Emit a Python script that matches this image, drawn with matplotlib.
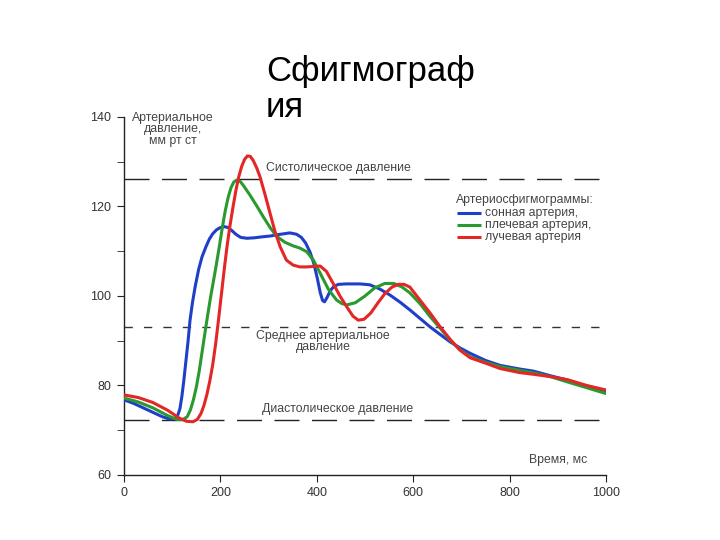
import matplotlib
matplotlib.use("Agg")
import matplotlib.pyplot as plt

plt.rcParams['font.family'] = ['Liberation Sans', 'DejaVu Sans']

# сонная артерия
t_blue = [0, 20, 50, 80, 95, 105, 111, 116, 120, 124, 128, 133, 137, 142, 148, 155, 162, 170,
          177, 184, 192, 200, 208, 216, 224, 232, 242, 255, 270, 285, 303, 325, 344, 358, 368,
          377, 386, 394, 401, 407, 412, 416, 421, 428, 436, 445, 460, 490, 510, 530, 552, 573,
          593, 614, 635, 656, 676, 697, 718, 750, 780, 820, 850, 884, 920, 960, 1000]
p_blue = [76.8, 76, 74.5, 73, 72.5, 72.6, 73.2, 74.8, 77.5, 81, 85, 90, 94.6, 98.5, 102.3, 106,
          108.8, 111, 112.7, 113.9, 114.8, 115.3, 115.5, 115.3, 114.6, 113.8, 113.1, 112.9, 113,
          113.2, 113.4, 113.8, 114.1, 113.8, 113.1, 111.8, 109.8, 107.2, 104, 100.8, 99, 98.7,
          99.6, 101.2, 102.2, 102.6, 102.7, 102.7, 102.5, 101.6, 100.2, 98.6, 96.9, 95, 93.1,
          91.4, 89.8, 88.4, 87.2, 85.6, 84.5, 83.7, 83.2, 82.2, 81.2, 79.9, 78.8]

# плечевая артерия
t_green = [0, 30, 60, 90, 110, 122, 131, 138, 144, 150, 156, 162, 168, 174, 180, 186, 192, 198,
           204, 210, 216, 222, 228, 234, 241, 247, 254, 261, 275, 289, 303, 317, 334, 351, 365,
           379, 393, 407, 424, 441, 452, 462, 480, 500, 520, 541, 560, 577, 593, 614, 635, 656,
           676, 697, 718, 750, 780, 820, 850, 884, 920, 960, 1000]
p_green = [77.2, 76.3, 75, 73.3, 72.4, 72.4, 73, 74.6, 76.8, 79.6, 83.2, 87.5, 91.8, 96, 100,
           103.6, 107.3, 111.2, 115.3, 119, 122, 124.2, 125.5, 125.9, 125.6, 124.8, 123.7, 122.6,
           120.2, 117.7, 115.3, 113.3, 112, 111.2, 110.7, 109.9, 108, 105.1, 101.5, 99.1, 98.3,
           98, 98.5, 100, 101.8, 102.8, 102.8, 102, 100.7, 98.3, 95.4, 92.8, 90.2, 88, 86.4,
           85.2, 84.2, 83.4, 82.8, 82, 80.8, 79.5, 78.2]

# лучевая архерия
t_red = [0, 30, 60, 90, 115, 130, 143, 152, 160, 166, 172, 178, 184, 190, 196, 202, 208, 214,
         220, 226, 232, 238, 244, 250, 256, 262, 268, 275, 282, 293, 303, 313, 324, 337, 351,
         365, 379, 393, 407, 420, 434, 448, 462, 475, 486, 498, 512, 527, 541, 556, 569, 581,
         593, 614, 635, 656, 676, 697, 718, 750, 780, 820, 850, 884, 920, 960, 1000]
p_red = [77.9, 77.3, 76.2, 74.5, 72.7, 72, 71.9, 72.4, 73.8, 75.6, 78, 81, 84.6, 89.2, 94.6,
         100.3, 106, 111.3, 115.8, 119.8, 123.5, 126.6, 128.9, 130.5, 131.3, 131.2, 130.3,
         128.7, 126.7, 122.5, 118.5, 114.5, 111, 108, 106.9, 106.5, 106.5, 106.6, 106.7, 105.5,
         102.8, 100, 97.6, 95.5, 94.6, 94.8, 96.2, 98.5, 100.5, 102, 102.6, 102.6, 102, 99.1,
         96.2, 93.1, 90.4, 87.9, 86.2, 85.0, 83.8, 82.9, 82.5, 82, 81.3, 80, 79]

systolic = 126.1
mean_p = 93.1
diastolic = 72.3

blue = '#1f3fc8'
green = '#2a9a2e'
red = '#e32626'

fig = plt.figure(figsize=(7.2, 5.4), dpi=100)
ax = fig.add_axes([124 / 720, 65 / 540, 482 / 720, 358 / 540])

ax.plot(t_blue, p_blue, color=blue, lw=2.2, solid_capstyle='round', solid_joinstyle='round', zorder=3)
ax.plot(t_green, p_green, color=green, lw=2.2, solid_capstyle='round', solid_joinstyle='round', zorder=3)
ax.plot(t_red, p_red, color=red, lw=2.2, solid_capstyle='round', solid_joinstyle='round', zorder=4)

ax.axhline(systolic, color='#222222', lw=1.0, dashes=(18, 9))
ax.axhline(mean_p, color='#333333', lw=1.0, dashes=(6, 8))
ax.axhline(diastolic, color='#222222', lw=1.0, dashes=(18, 9))

ax.set_xlim(0, 1000)
ax.set_ylim(60, 140)
ax.set_xticks(range(0, 1001, 200))
ax.set_yticks(range(60, 141, 20))
ax.set_yticks(range(70, 140, 20), minor=True)
for s in ['top', 'right']:
    ax.spines[s].set_visible(False)
for s in ['left', 'bottom']:
    ax.spines[s].set_color('#222222')
    ax.spines[s].set_linewidth(1.0)
ax.tick_params(axis='both', which='both', direction='out', length=5, color='#222222',
               labelsize=9, labelcolor='#333333')
ax.tick_params(axis='y', which='major', pad=4)

txt = dict(color='#444444', fontsize=8.8)
ax.text(102, 141.2, 'Артериальное\nдавление,\nмм рт ст', ha='center', va='top',
        linespacing=0.95, **txt)
ax.text(295, 128.6, 'Систолическое давление', ha='left', va='center', **txt)
ax.text(689, 121.5, 'Артериосфигмограммы:', ha='left', va='center', **txt)
legend_items = [('сонная артерия,', blue), ('плечевая артерия,', green),
                ('лучевая артерия', red)]
for i, (label, c) in enumerate(legend_items):
    y = 118.6 - i * 2.7
    ax.plot([690, 740], [y, y], color=c, lw=2.2, solid_capstyle='butt')
    ax.text(748, y, label, ha='left', va='center', **txt)
ax.text(413, 89.8, 'Среднее артериальное\nдавление', ha='center', va='center',
        linespacing=0.95, **txt)
ax.text(286, 74.8, 'Диастолическое давление', ha='left', va='center', **txt)
ax.text(962, 63.4, 'Время, мс', ha='right', va='center', **txt)

fig.text(266 / 720, 1 - 117 / 540, 'Сфигмограф\nия', ha='left', va='baseline',
         fontsize=25, color='black', linespacing=1.12)

fig.savefig('out.png', dpi=100, facecolor='white')
